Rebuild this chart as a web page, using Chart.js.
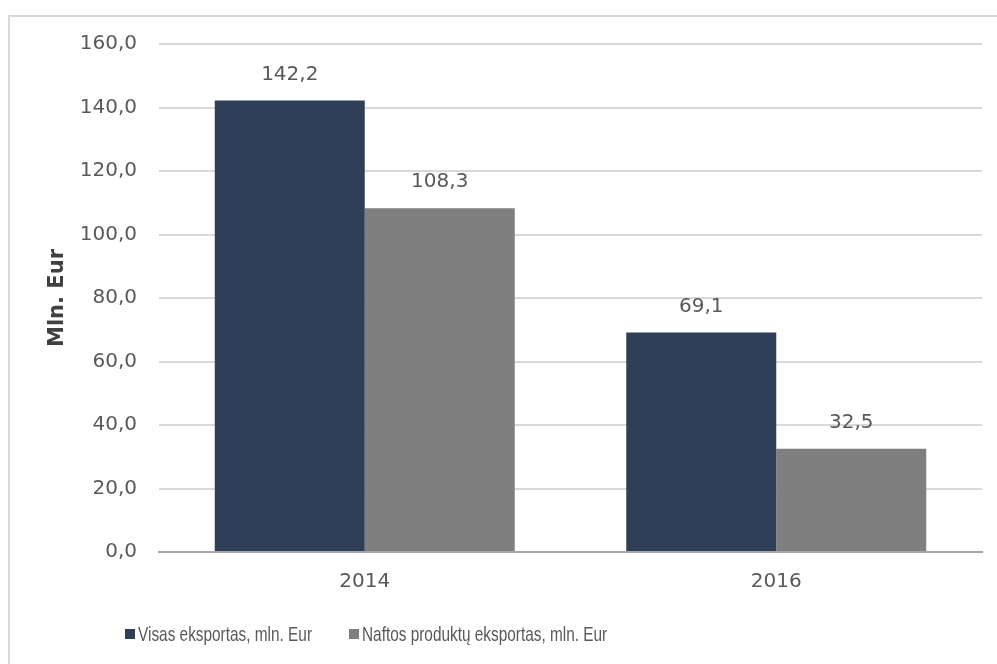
<!DOCTYPE html>
<html>
<head>
<meta charset="utf-8">
<script src="https://cdn.jsdelivr.net/npm/chart.js@4"></script>
<style>
html,body{margin:0;padding:0;background:#fff;}
#wrap{position:absolute;left:0;top:0;width:997px;height:664px;}
</style>
</head>
<body>
<div id="wrap"><canvas id="c" width="997" height="664"></canvas></div>
<script>
const categories = ['2014', '2016'];
const seriesNames = ['Visas eksportas, mln. Eur', 'Naftos produktų eksportas, mln. Eur'];
const visasEksportas = [142.2, 69.1];
const naftosEksportas = [108.3, 32.5];
const yTicks = [0, 20, 40, 60, 80, 100, 120, 140, 160];
const colors = ['#2E3F57', '#7F7F7F'];

const fmt = v => v.toFixed(1).replace('.', ',');
const TXT = '#595959';
const NUMFONT = "'DejaVu Sans', sans-serif";
const LEGFONT = "'Liberation Sans', sans-serif";

const framePlugin = {
  id: 'frame',
  beforeDraw(chart) {
    const ctx = chart.ctx;
    ctx.save();
    ctx.fillStyle = '#fff';
    ctx.fillRect(0, 0, chart.width, chart.height);
    ctx.strokeStyle = '#D9D9D9';
    ctx.lineWidth = 2;
    ctx.beginPath();
    ctx.moveTo(9, chart.height + 5);
    ctx.lineTo(9, 16);
    ctx.lineTo(chart.width + 5, 16);
    ctx.stroke();
    ctx.restore();
  }
};

const labelPlugin = {
  id: 'valueLabels',
  afterDatasetsDraw(chart) {
    const ctx = chart.ctx;
    ctx.save();
    ctx.font = '20px ' + NUMFONT;
    ctx.fillStyle = TXT;
    ctx.textAlign = 'center';
    ctx.textBaseline = 'middle';
    chart.data.datasets.forEach((ds, i) => {
      chart.getDatasetMeta(i).data.forEach((el, j) => {
        ctx.fillText(fmt(ds.data[j]), el.x, el.y - 26);
      });
    });
    ctx.restore();
  }
};

const legendPlugin = {
  id: 'customLegend',
  afterDraw(chart) {
    const ctx = chart.ctx;
    ctx.save();
    ctx.font = '21px ' + LEGFONT;
    ctx.textBaseline = 'middle';
    ctx.textAlign = 'left';
    const sx = 174 / ctx.measureText(chart.data.datasets[0].label).width;
    const y = 634;
    let x = 125;
    chart.data.datasets.forEach((ds, i) => {
      ctx.fillStyle = ds.backgroundColor;
      ctx.fillRect(x, y - 5, 10, 10);
      ctx.fillStyle = TXT;
      const w = ctx.measureText(ds.label).width * sx;
      ctx.save();
      ctx.translate(x + 13, y + 1);
      ctx.scale(sx, 1);
      ctx.fillText(ds.label, 0, 0);
      ctx.restore();
      x += 13 + w + 37;
    });
    ctx.restore();
  }
};

new Chart(document.getElementById('c'), {
  type: 'bar',
  data: {
    labels: categories,
    datasets: [
      { label: seriesNames[0], data: visasEksportas, backgroundColor: colors[0] },
      { label: seriesNames[1], data: naftosEksportas, backgroundColor: colors[1] }
    ]
  },
  options: {
    responsive: false,
    animation: false,
    devicePixelRatio: 1,
    layout: { padding: { left: 20, right: 15, top: 44, bottom: 62 } },
    datasets: { bar: { barPercentage: 1, categoryPercentage: 0.729 } },
    plugins: { legend: { display: false }, tooltip: { enabled: false } },
    scales: {
      x: {
        grid: { display: false },
        border: { display: true, color: '#A6A6A6', width: 2 },
        ticks: { color: TXT, font: { family: NUMFONT, size: 20 }, padding: 10 },
        afterFit(s) { s.height = 50; }
      },
      y: {
        min: 0, max: 160,
        afterBuildTicks(s) { s.ticks = yTicks.map(v => ({ value: v })); },
        grid: { color: '#D9D9D9', lineWidth: 2, drawTicks: false },
        border: { display: false },
        ticks: { color: TXT, font: { family: NUMFONT, size: 20 }, padding: 22, callback: v => fmt(v) },
        title: { display: true, text: 'Mln. Eur', color: '#404040', font: { family: NUMFONT, size: 21, weight: 'bold' }, padding: { top: 25, bottom: 0 } },
        afterFit(s) { s.width = 139; }
      }
    }
  },
  plugins: [framePlugin, labelPlugin, legendPlugin]
});
</script>
</body>
</html>
